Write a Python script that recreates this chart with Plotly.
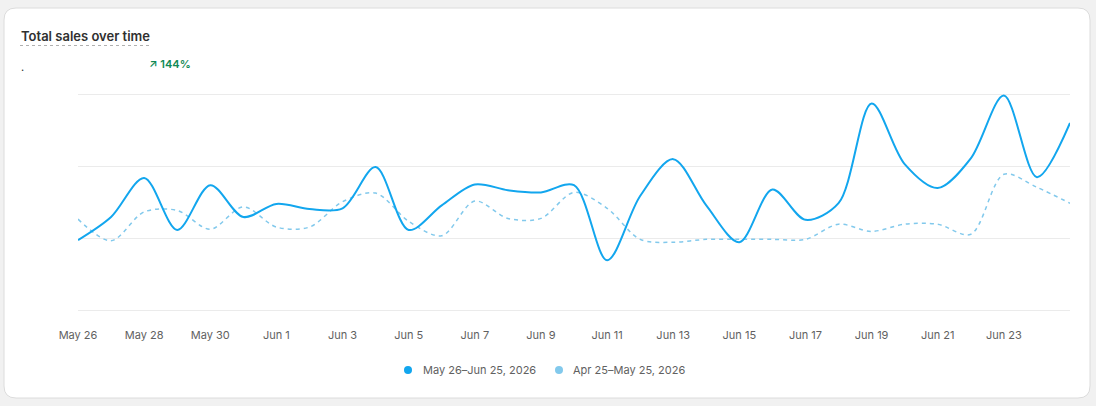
import plotly.graph_objects as go

# ---- data ----
dates = [f"2026-05-{d:02d}" for d in range(26, 32)] + [f"2026-06-{d:02d}" for d in range(1, 26)]
current_sales = [98, 130, 184, 112, 174, 130, 148, 141, 142, 199, 112, 146, 175, 167, 164, 174,
                 70, 159, 210, 146, 95, 168, 126, 149, 287, 203, 170, 211, 298, 185, 260]
previous_sales = [127, 97, 137, 139, 113, 144, 116, 116, 151, 163, 124, 104, 152, 128, 128, 164,
                  142, 99, 95, 99, 99, 99, 99, 120, 110, 120, 120, 106, 189, 171, 149]
tick_dates = ["2026-05-26", "2026-05-28", "2026-05-30", "2026-06-01", "2026-06-03", "2026-06-05",
              "2026-06-07", "2026-06-09", "2026-06-11", "2026-06-13", "2026-06-15", "2026-06-17",
              "2026-06-19", "2026-06-21", "2026-06-23"]
tick_labels = ["May 26", "May 28", "May 30", "Jun 1", "Jun 3", "Jun 5", "Jun 7", "Jun 9",
               "Jun 11", "Jun 13", "Jun 15", "Jun 17", "Jun 19", "Jun 21", "Jun 23"]
series_names = ["May 26–Jun 25, 2026", "Apr 25–May 25, 2026"]
title_text = "Total sales over time"
change_text = "144%"

# ---- layout geometry (pixels) ----
W, H = 1096, 406
PL, PR, PT, PB = 78, 1070, 93, 312
Y_RANGE = [-1.5, 301.5]


def px2x(px):
    return (px - PL) / (PR - PL)


def py2y(py):
    return (PB - py) / (PB - PT)


C_CUR = "#12a6ee"
C_PREV = "#82c9ec"
GRAY = "#616161"
FONT = "Inter"

fig = go.Figure()
fig.add_trace(go.Scatter(x=dates, y=previous_sales, mode="lines", showlegend=False,
                         line=dict(color=C_PREV, width=1.5, dash="4px,4px", shape="spline", smoothing=0.9),
                         hoverinfo="skip"))
fig.add_trace(go.Scatter(x=dates, y=current_sales, mode="lines", showlegend=False,
                         line=dict(color=C_CUR, width=2, shape="spline", smoothing=0.9),
                         hoverinfo="skip"))

# card background
r = 12
x0, y0, x1, y1 = 4, 8, 1090, 398
path = (f"M {px2x(x0 + r)},{py2y(y0)} L {px2x(x1 - r)},{py2y(y0)} "
        f"Q {px2x(x1)},{py2y(y0)} {px2x(x1)},{py2y(y0 + r)} "
        f"L {px2x(x1)},{py2y(y1 - r)} Q {px2x(x1)},{py2y(y1)} {px2x(x1 - r)},{py2y(y1)} "
        f"L {px2x(x0 + r)},{py2y(y1)} Q {px2x(x0)},{py2y(y1)} {px2x(x0)},{py2y(y1 - r)} "
        f"L {px2x(x0)},{py2y(y0 + r)} Q {px2x(x0)},{py2y(y0)} {px2x(x0 + r)},{py2y(y0)} Z")
shapes = [
    dict(type="path", xref="paper", yref="paper", path=path, fillcolor="white",
         line=dict(color="#dcdcdc", width=1), layer="below"),
    dict(type="line", xref="paper", yref="paper", x0=px2x(20), x1=px2x(149), y0=py2y(45.5), y1=py2y(45.5),
         line=dict(color="#b0b0b0", width=1, dash="dot")),
]

annotations = [
    dict(text=title_text, xref="paper", yref="paper", x=px2x(19), y=py2y(36),
         xanchor="left", yanchor="middle", showarrow=False,
         font=dict(family=FONT, size=13, color="#303030", weight=600)),
    dict(text=".", xref="paper", yref="paper", x=px2x(19), y=py2y(67),
         xanchor="left", yanchor="middle", showarrow=False,
         font=dict(family=FONT, size=11, color="#303030")),
    dict(text=f"↗ {change_text}", xref="paper", yref="paper", x=px2x(147), y=py2y(64),
         xanchor="left", yanchor="middle", showarrow=False,
         font=dict(family=FONT, size=11, color="#108a55", weight=600)),
]

# custom legend (circle markers + labels)
legend_items = [(series_names[0], C_CUR, 408, 421), (series_names[1], C_PREV, 559, 571)]
for name, color, mx, tx in legend_items:
    shapes.append(dict(type="circle", xref="paper", yref="paper",
                       x0=px2x(mx - 4), x1=px2x(mx + 4), y0=py2y(370 - 4), y1=py2y(370 + 4),
                       fillcolor=color, line=dict(width=0)))
    annotations.append(dict(text=name, xref="paper", yref="paper", x=px2x(tx), y=py2y(370),
                            xanchor="left", yanchor="middle", showarrow=False,
                            font=dict(family=FONT, size=11, color=GRAY)))

fig.update_layout(
    width=W, height=H,
    margin=dict(l=PL, r=W - PR, t=PT, b=H - PB, pad=0),
    paper_bgcolor="#f1f1f1", plot_bgcolor="rgba(0,0,0,0)",
    font=dict(family=FONT, size=11, color=GRAY),
    shapes=shapes, annotations=annotations,
    showlegend=False,
    xaxis=dict(range=[dates[0], dates[-1]], tickvals=tick_dates, ticktext=tick_labels,
               showgrid=False, zeroline=False, showline=False, ticks="outside", ticklen=13,
               tickcolor="rgba(0,0,0,0)", tickfont=dict(family=FONT, size=11, color=GRAY),
               fixedrange=True),
    yaxis=dict(range=Y_RANGE, tickvals=[0, 100, 200, 300], showticklabels=False,
               showgrid=True, gridcolor="#ebebeb", gridwidth=1, zeroline=False, showline=False,
               fixedrange=True),
)

fig.write_html("out.html", config={"displayModeBar": False})
